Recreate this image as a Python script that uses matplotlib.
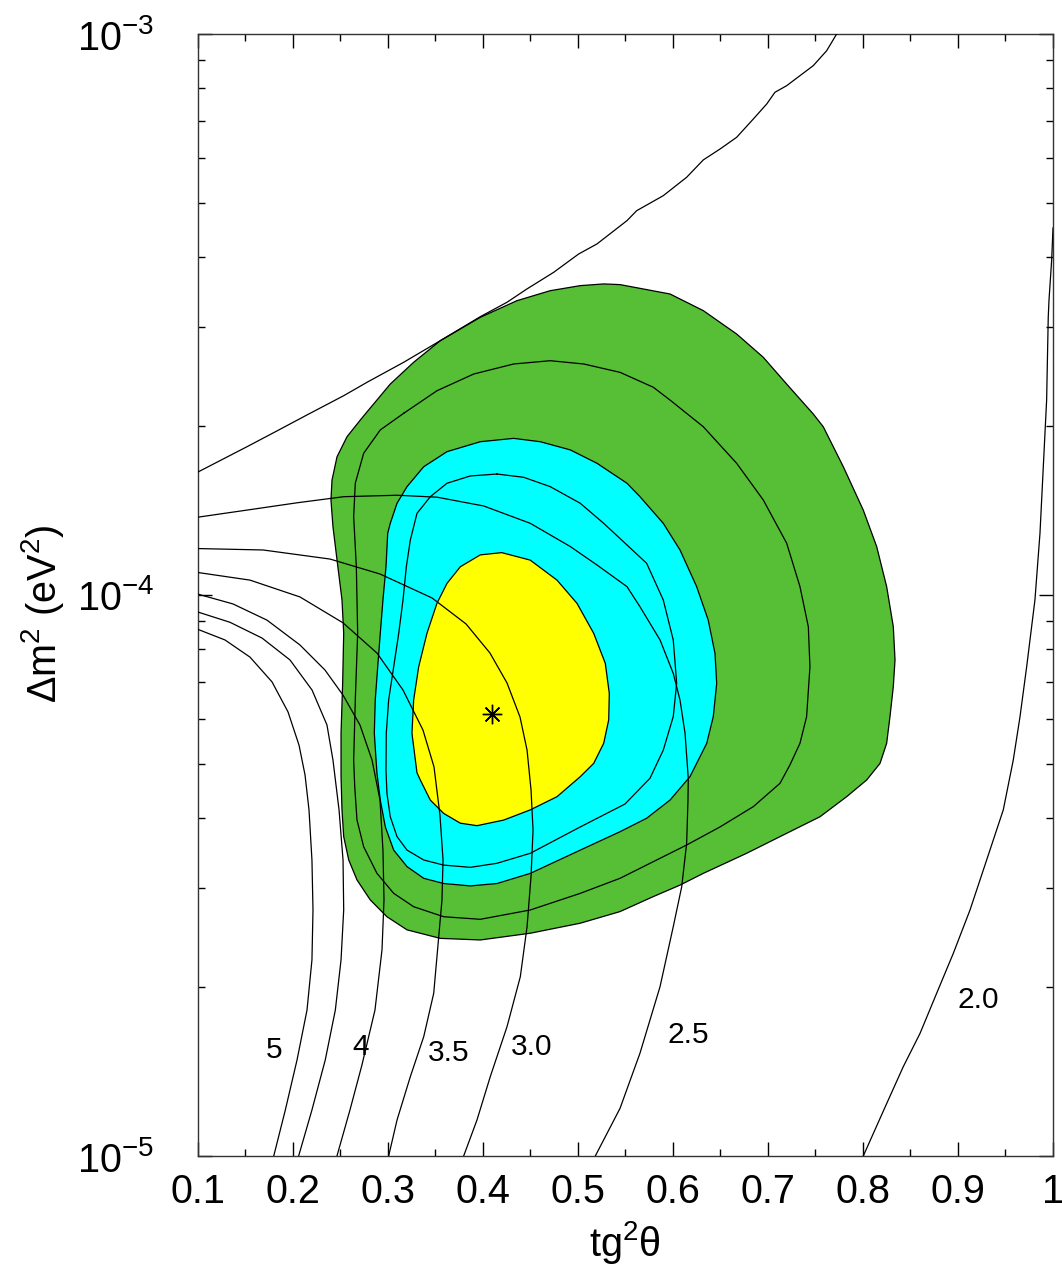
import matplotlib
matplotlib.use('Agg')
import matplotlib.pyplot as plt
import numpy as np
from matplotlib.ticker import FixedLocator, MultipleLocator, LogLocator, NullFormatter

plt.rcParams['font.family'] = ['Liberation Sans', 'DejaVu Sans']
plt.rcParams['mathtext.fontset'] = 'custom'
plt.rcParams['mathtext.rm'] = 'Liberation Sans'
plt.rcParams['mathtext.it'] = 'Liberation Sans:italic'
plt.rcParams['mathtext.bf'] = 'Liberation Sans:bold'

UNIT = 1e-5  # Δm² values below are in units of 1e-5 eV²

# ---------------- data (tg²θ, Δm² [1e-5 eV²]) ----------------
green_x = [0.2765, 0.3028, 0.3274, 0.3554, 0.3975, 0.4361, 0.4711, 0.5027, 0.5273, 0.5445,
           0.5971, 0.6321, 0.6672, 0.6952, 0.7198, 0.7478, 0.7583, 0.7794, 0.8004, 0.8145,
           0.825, 0.832, 0.8338, 0.832, 0.8285, 0.825, 0.818, 0.804, 0.7829, 0.7549,
           0.7198, 0.6777, 0.6321, 0.6076, 0.5795, 0.5445, 0.5027, 0.4501, 0.3975, 0.3554,
           0.3204, 0.2993, 0.2818, 0.2678, 0.2591, 0.2538, 0.252, 0.251, 0.251, 0.2527,
           0.2538, 0.252, 0.2468, 0.2425, 0.2404, 0.2415, 0.2468, 0.2573, 0.2713]
green_dm2 = [21.02, 23.77, 25.99, 28.40, 31.26, 33.47, 34.87, 35.60, 35.85, 35.75,
             34.40, 32.13, 29.19, 26.53, 23.77, 21.02, 19.95, 16.93, 14.17, 12.20,
             10.35, 8.78, 7.66, 6.865, 6.07, 5.44, 5.01, 4.68, 4.37, 4.025,
             3.76, 3.464, 3.19, 3.04, 2.90, 2.727, 2.60, 2.495, 2.427, 2.443,
             2.53, 2.67, 2.86, 3.105, 3.37, 3.71, 4.14, 4.745, 5.67, 6.96,
             8.545, 9.80, 11.54, 13.24, 14.77, 16.03, 17.64, 19.15, 20.51]

cyan_x = [0.4326, 0.4606, 0.4922, 0.5203, 0.5518, 0.5655, 0.59, 0.6076, 0.6251, 0.6373,
          0.6444, 0.6462, 0.6426, 0.6357, 0.6251, 0.6181, 0.5971, 0.5725, 0.5445, 0.5027,
          0.4501, 0.4151, 0.387, 0.359, 0.338, 0.3204, 0.3064, 0.2976, 0.2923, 0.2888,
          0.286, 0.287, 0.2896, 0.2923, 0.2951, 0.2983, 0.3001, 0.3028, 0.3099, 0.3204,
          0.338, 0.3625, 0.3975]
cyan_dm2 = [19.02, 18.76, 18.14, 17.17, 15.82, 14.97, 13.42, 12.03, 10.35, 9.02,
            7.87, 6.96, 6.07, 5.44, 5.01, 4.745, 4.31, 4.00, 3.785, 3.51,
            3.19, 3.06, 3.03, 3.06, 3.126, 3.28, 3.51, 3.86, 4.31, 4.81,
            5.67, 6.50, 7.45, 8.545, 9.80, 11.23, 12.88, 13.42, 14.57, 15.60,
            16.93, 18.01, 18.76]

yellow_x = [0.420, 0.450, 0.4782, 0.4992, 0.5168, 0.5290, 0.5332, 0.5326, 0.5273, 0.5168,
            0.5027, 0.4782, 0.4501, 0.4221, 0.3940, 0.3765, 0.359, 0.3449, 0.3344, 0.3309,
            0.3256, 0.3274, 0.3327, 0.3414, 0.3519, 0.3625, 0.3765, 0.3975]
yellow_dm2 = [11.90, 11.54, 10.63, 9.665, 8.545, 7.554, 6.68, 5.99, 5.44, 5.01,
              4.745, 4.37, 4.14, 3.97, 3.88, 3.92, 4.08, 4.31, 4.68, 4.82,
              5.67, 6.50, 7.45, 8.545, 9.665, 10.49, 11.23, 11.79]

# closed contour lines inside the coloured regions
lineA_x = [0.4151, 0.4432, 0.4711, 0.5027, 0.5273, 0.5518, 0.5725, 0.59, 0.6005, 0.6041,
           0.6005, 0.59, 0.576, 0.5497, 0.5027, 0.4501, 0.4151, 0.387, 0.359, 0.338,
           0.3204, 0.3099, 0.3028, 0.2993, 0.2983, 0.2986, 0.3011, 0.3064, 0.3117, 0.3162,
           0.3197, 0.3239, 0.3309, 0.3449, 0.3625, 0.387]
lineA_dm2 = [16.43, 16.21, 15.60, 14.57, 13.42, 12.28, 11.39, 9.80, 8.315, 6.96,
             6.07, 5.29, 4.713, 4.24, 3.86, 3.464, 3.325, 3.27, 3.30, 3.37,
             3.51, 3.71, 4.025, 4.43, 4.875, 5.67, 6.50, 7.45, 8.545, 9.80,
             11.23, 12.53, 13.98, 14.97, 15.82, 16.30]

lineB_x = [0.3169, 0.352, 0.3906, 0.4326, 0.4711, 0.5063, 0.5445, 0.5795, 0.5971, 0.6321,
           0.6672, 0.6952, 0.7198, 0.7338, 0.7426, 0.7443, 0.7408, 0.7338, 0.7233, 0.7128,
           0.6847, 0.6497, 0.6146, 0.5795, 0.5445, 0.5027, 0.4501, 0.3975, 0.359, 0.3274,
           0.3064, 0.2888, 0.2748, 0.2678, 0.2654, 0.2643, 0.266, 0.2685, 0.2671, 0.2643,
           0.266, 0.2748, 0.2923]
lineB_dm2 = [21.08, 23.13, 24.77, 25.81, 26.16, 25.81, 24.94, 23.46, 22.26, 19.95,
             17.17, 14.77, 12.37, 10.35, 8.78, 7.45, 6.07, 5.44, 4.98, 4.617,
             4.195, 3.86, 3.584, 3.347, 3.126, 2.939, 2.745, 2.642, 2.67, 2.782,
             2.939, 3.19, 3.559, 3.97, 4.553, 5.08, 6.50, 8.545, 11.23, 13.79,
             15.82, 17.89, 19.69]

# open iso-lines
iso_top_x = [0.1, 0.1521, 0.1836, 0.2152, 0.2538, 0.2783, 0.3169, 0.3554, 0.3975, 0.4256,
             0.4466, 0.4747, 0.501, 0.5203, 0.5518, 0.5620, 0.5900, 0.6146, 0.6321, 0.6497,
             0.6672, 0.6847, 0.6988, 0.7075, 0.7198, 0.7478, 0.7619, 0.7724]
iso_top_dm2 = [16.55, 18.38, 19.61, 20.94, 22.66, 23.94, 25.99, 28.40, 31.34, 33.25,
               35.12, 37.60, 40.54, 42.25, 46.48, 48.42, 51.50, 55.54, 59.64, 62.37,
               65.44, 70.54, 75.02, 78.73, 80.88, 87.82, 93.37, 100.0]

iso25_x = [0.1, 0.1521, 0.2047, 0.2538, 0.3099, 0.352, 0.4011, 0.4501, 0.4922, 0.5203,
           0.5518, 0.5655, 0.5866, 0.6005, 0.6076, 0.6129, 0.6163, 0.616, 0.6146, 0.6094,
           0.6005, 0.5866, 0.5655, 0.5445, 0.5185]
iso25_dm2 = [13.76, 14.17, 14.60, 14.97, 15.06, 14.94, 14.41, 13.42, 12.20, 11.31,
             10.35, 9.53, 8.315, 7.25, 6.50, 5.67, 4.713, 4.31, 3.61, 3.02,
             2.563, 2.004, 1.525, 1.216, 1.0]

iso30_x = [0.1, 0.1689, 0.2394, 0.292, 0.3467, 0.3825, 0.4077, 0.4256, 0.4393, 0.4467,
           0.4509, 0.453, 0.4509, 0.4467, 0.4396, 0.4256, 0.408, 0.394, 0.38]
iso30_dm2 = [12.10, 12.03, 11.59, 10.90, 9.88, 8.88, 7.88, 6.97, 6.06, 5.29,
             4.49, 3.81, 3.155, 2.563, 2.087, 1.70, 1.385, 1.159, 1.0]

iso35_x = [0.1, 0.1552, 0.2078, 0.2531, 0.2888, 0.3162, 0.3372, 0.3488, 0.3551, 0.3583,
           0.3572, 0.353, 0.3485, 0.338, 0.3239, 0.3099, 0.3011]
iso35_dm2 = [10.97, 10.63, 9.92, 8.92, 7.88, 6.77, 5.745, 4.94, 4.05, 3.37,
             2.86, 2.377, 1.95, 1.632, 1.385, 1.159, 1.0]

iso40_x = [0.1, 0.1373, 0.1731, 0.2078, 0.2341, 0.2531, 0.2709, 0.2836, 0.292, 0.2951,
           0.2962, 0.2941, 0.2867, 0.273, 0.2604, 0.2467]
iso40_dm2 = [10.04, 9.64, 9.02, 8.145, 7.35, 6.63, 5.866, 5.08, 4.31, 3.51,
             2.86, 2.33, 1.82, 1.453, 1.208, 1.0]

iso45_x = [0.1, 0.1342, 0.1679, 0.1973, 0.2205, 0.2362, 0.2425, 0.2489, 0.2531, 0.2538,
           0.251, 0.245, 0.2344, 0.2204, 0.2064]
iso45_dm2 = [9.33, 8.94, 8.38, 7.66, 6.77, 5.866, 5.08, 4.14, 3.37, 2.745,
             2.236, 1.82, 1.483, 1.208, 1.0]

iso50_x = [0.1, 0.1289, 0.1552, 0.1784, 0.1952, 0.2068, 0.2131, 0.2173, 0.2204, 0.2215,
           0.2204, 0.2152, 0.2047, 0.1924, 0.1802]
iso50_dm2 = [8.69, 8.315, 7.75, 7.0, 6.19, 5.40, 4.78, 4.14, 3.37, 2.745,
             2.236, 1.82, 1.483, 1.208, 1.0]

iso20_x = [1.0, 0.9986, 0.9958, 0.995, 0.9933, 0.9898, 0.9863, 0.981, 0.9723, 0.9653,
           0.9582, 0.9477, 0.9302, 0.9127, 0.8951, 0.8776, 0.8601, 0.8425, 0.8251, 0.8004]
iso20_dm2 = [45.1, 39.55, 33.56, 31.26, 22.26, 16.93, 12.88, 9.80, 7.45, 6.07,
             5.08, 4.14, 3.37, 2.745, 2.297, 1.95, 1.654, 1.443, 1.241, 1.0]

label_texts = ['5', '4', '3.5', '3.0', '2.5', '2.0']
label_x = [0.1802, 0.2713, 0.3643, 0.4519, 0.6163, 0.9214]
label_dm2 = [1.545, 1.566, 1.525, 1.566, 1.643, 1.897]

best_fit_x = [0.41]
best_fit_dm2 = [6.14]

x_ticks = [0.1, 0.2, 0.3, 0.4, 0.5, 0.6, 0.7, 0.8, 0.9, 1.0]
x_ticklabels = ['0.1', '0.2', '0.3', '0.4', '0.5', '0.6', '0.7', '0.8', '0.9', '1']
y_ticks = [1e-5, 1e-4, 1e-3]
y_ticklabels = [r'$10^{-5}$', r'$10^{-4}$', r'$10^{-3}$']

# ---------------- plot ----------------
GREEN = '#56BF35'
CYAN = '#00FFFF'
YELLOW = '#FFFF00'
LW = 0.9

def scaled(v):
    return [a * UNIT for a in v]

fig = plt.figure(figsize=(10.62, 12.77), dpi=100)
ax = fig.add_axes([197.5 / 1062, 1 - 1156 / 1277, (1053 - 197.5) / 1062, (1156 - 34) / 1277])
ax.set_yscale('log')
ax.set_xlim(0.1, 1.0)
ax.set_ylim(1e-5, 1e-3)

ax.fill(green_x, scaled(green_dm2), facecolor=GREEN, edgecolor='black', lw=LW, zorder=1)
ax.fill(cyan_x, scaled(cyan_dm2), facecolor=CYAN, edgecolor='black', lw=LW, zorder=2)
ax.fill(yellow_x, scaled(yellow_dm2), facecolor=YELLOW, edgecolor='black', lw=LW, zorder=3)

for xs, ys in [(lineA_x, lineA_dm2), (lineB_x, lineB_dm2)]:
    ax.plot(xs + xs[:1], scaled(ys + ys[:1]), color='black', lw=LW, zorder=4)

for xs, ys in [(iso_top_x, iso_top_dm2), (iso25_x, iso25_dm2), (iso30_x, iso30_dm2),
               (iso35_x, iso35_dm2), (iso40_x, iso40_dm2), (iso45_x, iso45_dm2),
               (iso50_x, iso50_dm2), (iso20_x, iso20_dm2)]:
    ax.plot(xs, scaled(ys), color='black', lw=LW, zorder=4, clip_on=True)

for t, x, y in zip(label_texts, label_x, label_dm2):
    ax.text(x, y * UNIT, t, fontsize=21.5, ha='center', va='center', zorder=5)

ax.plot(best_fit_x, scaled(best_fit_dm2), marker=(8, 2, 0), markersize=14,
        color='black', mew=1.0, ls='none', zorder=6)
ax.plot(best_fit_x, scaled(best_fit_dm2), marker='o', markersize=2.5,
        color='black', ls='none', zorder=6)

# axes / ticks
ax.xaxis.set_major_locator(FixedLocator(x_ticks))
ax.set_xticklabels(x_ticklabels)
ax.xaxis.set_minor_locator(MultipleLocator(0.05))
ax.yaxis.set_major_locator(FixedLocator(y_ticks))
ax.set_yticklabels(y_ticklabels)
ax.yaxis.set_minor_locator(LogLocator(base=10, subs=np.arange(2, 10)))
ax.yaxis.set_minor_formatter(NullFormatter())

ax.tick_params(which='both', direction='in', top=True, right=True, colors='black')
ax.tick_params(which='major', length=10, width=1.0)
ax.tick_params(which='minor', length=5, width=1.0)
ax.tick_params(axis='x', which='major', labelsize=28.5, pad=12)
ax.tick_params(axis='y', which='major', labelsize=28.5, pad=31)

for s in ax.spines.values():
    s.set_linewidth(1.0)
    s.set_color('#333333')

ax.set_xlabel(r'tg$^{\mathrm{2}}$θ', fontsize=28.5, labelpad=6)
ax.set_ylabel(r'Δm$^{\mathrm{2}}$ (eV$^{\mathrm{2}}$)', fontsize=28.5)
ax.yaxis.set_label_coords(-0.154, 0.483)

fig.savefig('out.png', dpi=100)
